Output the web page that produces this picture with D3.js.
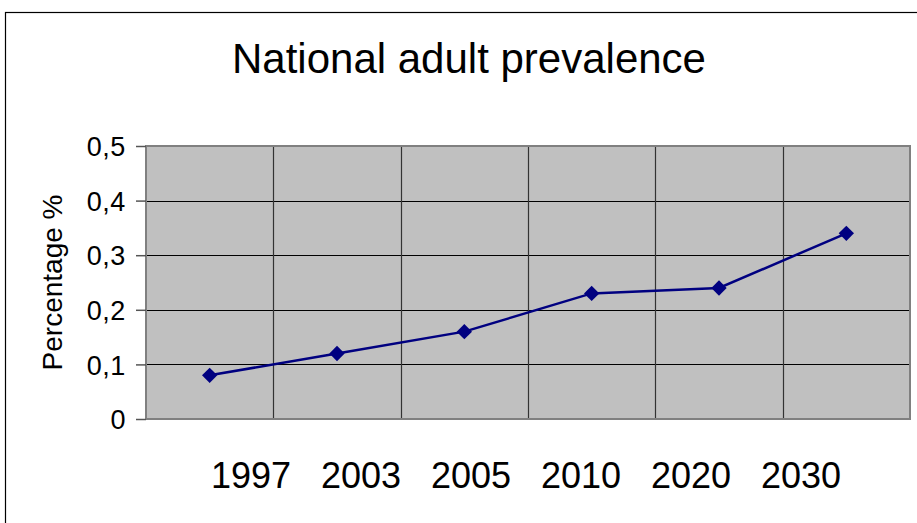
<!DOCTYPE html>
<html>
<head>
<meta charset="utf-8">
<script src="https://cdn.jsdelivr.net/npm/d3@7"></script>
<style>
  html, body { margin: 0; padding: 0; background: #fff; }
  svg { display: block; font-family: "Liberation Sans", Arial, sans-serif; }
</style>
</head>
<body>
<svg id="chart" width="917" height="523"></svg>
<script>
// Series data
const years = ["1997", "2003", "2005", "2010", "2020", "2030"];
const prevalence = [0.08, 0.12, 0.16, 0.23, 0.24, 0.34];
const yTicks = [0, 0.1, 0.2, 0.3, 0.4, 0.5];
const chartTitle = "National adult prevalence";
const yTitle = "Percentage %";

const svg = d3.select("#chart");

// Layout of the plot area
const plot = { left: 146, top: 146, right: 910, bottom: 419 };

// Outer chart frame
svg.append("rect")
  .attr("x", 5.5).attr("y", 12.5)
  .attr("width", 1000).attr("height", 1000)
  .attr("fill", "#fff").attr("stroke", "#000").attr("stroke-width", 1.2);

const x = d3.scaleBand().domain(years).range([plot.left, plot.right]).paddingInner(0).paddingOuter(0);
const y = d3.scaleLinear().domain([0, 0.5]).range([plot.bottom, plot.top]);

// Category labels sit on their own evenly spaced band
const xLabel = d3.scaleBand().domain(years).range([196, 856]);

// Plot background
svg.append("rect")
  .attr("x", plot.left).attr("y", plot.top)
  .attr("width", plot.right - plot.left).attr("height", plot.bottom - plot.top)
  .attr("fill", "#c0c0c0");

// Horizontal gridlines
svg.append("g")
  .selectAll("line")
  .data(yTicks.filter(d => d > 0 && d < 0.5))
  .join("line")
  .attr("x1", plot.left).attr("x2", plot.right)
  .attr("y1", d => Math.round(y(d)) + 0.5).attr("y2", d => Math.round(y(d)) + 0.5)
  .attr("stroke", "#000").attr("stroke-width", 1);

// Vertical gridlines between categories
svg.append("g")
  .selectAll("line")
  .data(years.slice(1))
  .join("line")
  .attr("x1", d => Math.round(x(d)) + 0.5).attr("x2", d => Math.round(x(d)) + 0.5)
  .attr("y1", plot.top).attr("y2", plot.bottom)
  .attr("stroke", "#333").attr("stroke-width", 1.2);

// Plot border
svg.append("rect")
  .attr("x", plot.left).attr("y", plot.top)
  .attr("width", plot.right - plot.left).attr("height", plot.bottom - plot.top)
  .attr("fill", "none").attr("stroke", "#808080").attr("stroke-width", 2);

// Y axis
const yAxis = d3.axisLeft(y)
  .tickValues(yTicks)
  .tickSize(10)
  .tickPadding(10)
  .tickFormat(d => d3.format(".1f")(d).replace(".", ",").replace(/^0,0$/, "0"));

const gy = svg.append("g")
  .attr("transform", `translate(${plot.left},0)`)
  .call(yAxis);
gy.select(".domain").remove();
gy.selectAll(".tick line").attr("stroke", "#555").attr("stroke-width", 1.5);
gy.selectAll(".tick text")
  .attr("fill", "#000")
  .style("font-size", "27px")
  .style("letter-spacing", "0.6px")
  .attr("dy", "0.36em");

// Category labels
svg.append("g")
  .selectAll("text")
  .data(years)
  .join("text")
  .attr("x", d => xLabel(d) + xLabel.bandwidth() / 2)
  .attr("y", 488)
  .attr("text-anchor", "middle")
  .style("font-size", "36px")
  .text(d => d);

// Series line
const line = d3.line()
  .x((d, i) => x(years[i]) + x.bandwidth() / 2)
  .y(d => y(d));

svg.append("path")
  .datum(prevalence)
  .attr("d", line)
  .attr("fill", "none")
  .attr("stroke", "#000080")
  .attr("stroke-width", 2.5);

// Diamond markers
const diamond = d3.symbol().type(d3.symbolDiamond2).size(150);
svg.append("g")
  .selectAll("path")
  .data(prevalence)
  .join("path")
  .attr("transform", (d, i) => `translate(${x(years[i]) + x.bandwidth() / 2},${y(d)})`)
  .attr("d", diamond)
  .attr("fill", "#000080");

// Title
svg.append("text")
  .attr("x", 469).attr("y", 73)
  .attr("text-anchor", "middle")
  .style("font-size", "42px")
  .text(chartTitle);

// Y axis title
svg.append("text")
  .attr("transform", "translate(62,282.5) rotate(-90)")
  .attr("text-anchor", "middle")
  .style("font-size", "28px")
  .text(yTitle);
</script>
</body>
</html>
